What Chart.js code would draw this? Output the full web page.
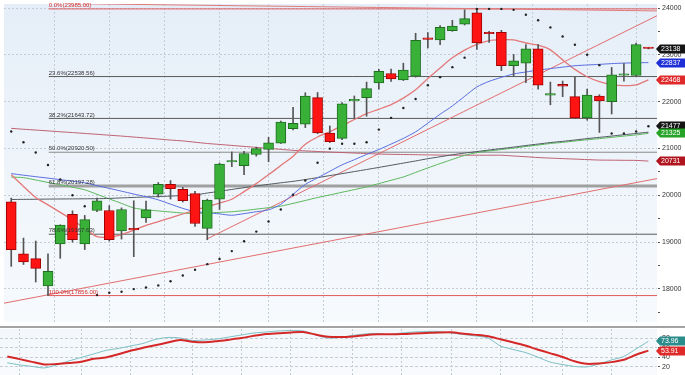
<!DOCTYPE html>
<html><head><meta charset="utf-8">
<script src="https://cdn.jsdelivr.net/npm/chart.js@4.4.0/dist/chart.umd.min.js"></script>
<style>
html,body{margin:0;padding:0;background:#fff;overflow:hidden;}
#wrap{position:relative;width:685px;height:375px;overflow:hidden;}
#c1{position:absolute;left:0;top:0;}
#sep{position:absolute;left:0;top:326px;width:685px;height:2px;background:#a3a3a3;}
#c2{position:absolute;left:0;top:328px;}
</style></head><body>
<div id="wrap"><canvas id="c1" width="685" height="326"></canvas><div id="sep"></div><canvas id="c2" width="685" height="48"></canvas></div>
<script>
// ---- data (weekly candles, index 0..52) ----
const weekIndex = [0,1,2,3,4,5,6,7,8,9,10,11,12,13,14,15,16,17,18,19,20,21,22,23,24,25,26,27,28,29,30,31,32,33,34,35,36,37,38,39,40,41,42,43,44,45,46,47,48,49,50,51,52];
const openP  = [19862,18751,18647,18063,18959,19591,18959,19675,19675,19237,19293,19516,20023,20232,20127,20038,19293,19919,20711,20634,20872,20982,21114,21426,21518,22088,21331,21218,22019,22088,22400,22603,22469,22546,23360,23324,23520,23658,23902,23474,23485,22770,22824,23130,22140,22373,22108,21656,22123,22004,22567,22561,23150];
const highP  = [19940,19085,19022,18751,19370,19668,19570,19940,19779,19731,19883,19877,20273,20315,20169,20086,19919,20690,20926,20941,21030,21239,21587,21879,22192,22198,21483,21983,22123,22421,22692,22699,22824,23464,23479,23631,23741,23965,23985,23506,23527,23012,23220,23220,22421,22442,22526,22269,22150,22734,22818,23256,23160];
const lowP   = [18480,18521,18146,17856,18653,18999,18840,19648,19022,19064,18688,19418,19960,19919,19856,19335,19049,19696,20613,20440,20836,20717,21107,21399,21447,21316,21128,21191,21643,21691,22269,22436,22453,22526,23151,23220,23506,23641,23116,23270,22665,22546,22407,22269,21935,22108,21639,21608,21343,21739,22442,22546,23130];
const closeP = [18840,18578,18438,18375,19362,19049,19481,19883,19049,19696,19262,19689,20232,20142,19883,19397,19898,20669,20726,20893,20997,21122,21566,21539,22123,21331,21149,21956,22031,22282,22651,22490,22678,23312,23333,23589,23616,23777,23256,23454,22770,22874,23130,22352,22150,22332,21656,22144,22019,22574,22588,23220,23138];

const maPink = [20440,20190,19954,19794,19635,19472,19293,19114,19105,19160,19253,19356,19437,19518,19600,19681,19758,19835,19915,20079,20250,20440,20636,20836,21091,21247,21358,21489,21620,21748,21839,21937,22077,22254,22498,22724,22939,23105,23228,23308,23328,23324,23256,23210,23110,22895,22692,22534,22430,22365,22344,22359,22468];
const maBlue = [20463,20430,20398,20367,20334,20302,20267,20206,20148,20088,20027,19969,19902,19810,19720,19650,19629,19602,19573,19608,19648,19689,19808,20023,20233,20373,20513,20651,20761,20874,20978,21095,21216,21356,21543,21733,21910,22115,22317,22436,22521,22594,22636,22676,22709,22740,22770,22786,22799,22815,22826,22832,22837];
const maGreen = [20390,20377,20327,20275,20225,20173,20117,20021,19923,19827,19729,19691,19666,19643,19620,19610,19623,19635,19648,19673,19704,19735,19769,19827,19889,19952,20008,20065,20121,20179,20250,20321,20392,20488,20586,20678,20767,20853,20913,20947,20978,21009,21043,21074,21107,21132,21160,21187,21212,21239,21266,21291,21325];
const maGray = [19910,19913,19915,19919,19921,19923,19925,19927,19933,19944,19954,19965,19973,19983,19994,20008,20048,20085,20125,20163,20200,20234,20267,20298,20336,20378,20421,20463,20507,20551,20596,20642,20688,20734,20782,20824,20866,20903,20934,20968,20999,21030,21064,21095,21128,21153,21182,21212,21239,21266,21295,21322,21349];
const maLong = [21431,21412,21395,21377,21358,21341,21322,21304,21285,21266,21245,21224,21203,21181,21162,21135,21107,21087,21066,21045,21024,21003,20982,20961,20949,20936,20924,20914,20903,20893,20882,20876,20872,20868,20863,20861,20857,20857,20857,20857,20857,20840,20824,20807,20795,20784,20774,20763,20753,20751,20748,20746,20731];
const sarDots = [21364,21135,20914,20649,20336,20002,19766,17869,17917,17937,17994,18027,18073,18163,18286,18407,18528,18640,18807,19016,19224,19439,19696,20013,20315,20697,20997,21101,21101,21135,21404,21656,21865,22060,22352,22526,22740,22943,23985,23985,23985,23965,23860,23741,23589,23395,23220,23005,22782,21322,21322,21364,21477];

const stochK = [28.2,23.6,20.4,17.2,23.6,32.1,39.5,46.9,54.4,58.6,63.9,69.2,77.7,82.0,80.9,75.6,76.6,78.8,83.0,87.3,91.5,93.6,95.8,96.8,95.8,87.3,80.9,82.0,86.2,89.4,90.4,88.3,91.5,93.6,94.7,94.7,91.5,88.3,85.1,80.9,63.9,56.5,50.1,40.6,29.9,24.6,20.4,19.3,25.7,34.2,41.6,57.5,73.96];
const stochD = [41.4,35.9,30.1,24.6,25.5,27.8,30.1,36.5,39.5,46.3,53.9,59.9,65.4,71.1,76.6,73.0,71.8,74.1,77.3,80.7,85.4,89.2,90.9,92.8,93.6,88.3,83.7,82.8,83.9,86.8,88.7,88.7,89.2,90.4,91.5,92.6,93.0,90.0,87.5,84.5,78.1,71.8,65.0,56.5,48.6,40.8,31.4,25.9,26.8,29.5,34.4,45.2,53.91];

const fibNames  = ['0.0%','23.6%','38.2%','50.0%','61.8%','78.6%','100.0%'];
const fibLevels = [23985.00,22538.56,21643.72,20920.50,20197.28,19167.63,17856.00];
const trendRise = [[-0.59,17693],[52.7,20357]];
const trendSteep = [[15.95,19064],[52.7,23839]];
const trendTop = [[-0.59,24115],[52.7,23942]];
const monthStarts = [1,6,10,15,19,23,28,32,36,40,45,49];
const priceTicks = [17500,18000,18500,19000,19500,20000,20500,21000,21500,22000,22500,23000,23500,24000];
const oscTicks = [20,40,60,80];
const priceTags = [
  {v:23138,t:'23138',c:'#151515'},{v:22837,t:'22837',c:'#1f2fd8'},{v:22468,t:'22468',c:'#e02a2a'},
  {v:21477,t:'21477',c:'#151515'},{v:21325,t:'21325',c:'#27a327'},{v:20731,t:'20731',c:'#b0141e'}];
const oscTags = [{v:73.96,t:'73.96',c:'#2b8c8c'},{v:53.91,t:'53.91',c:'#e02a2a'}];

// ---- helpers ----
const FONT = 'Liberation Sans, Arial, sans-serif';
const X_MIN = -0.59, X_MAX = 52.7;
const GREEN = '#39b139', GREEN_B = '#1f6f1f', RED = '#ff1414', RED_B = '#a00000';
const GRID = '#c4ccd5';
const up = weekIndex.map(i => closeP[i] >= openP[i]);
const pts = arr => arr.map((v,i)=>({x:weekIndex[i], y:v}));
const seg = arr => arr.map(p=>({x:p[0], y:p[1]}));

function xAxis(){
  return {type:'linear', min:X_MIN, max:X_MAX, offset:false,
    afterBuildTicks: s => { s.ticks = monthStarts.map(v=>({value:v})); },
    afterFit: s => { s.height = 0; s.paddingLeft = 0; s.paddingRight = 0; },
    ticks:{display:false}, border:{display:true, color:'rgba(0,0,0,0)', dash:[2,2]},
    grid:{color:GRID, drawTicks:false, lineWidth:1, borderDash:[2,2]}};
}
function tagPlugin(tags){
  return {id:'tags'+tags.length, afterDraw(chart){
    const ctx = chart.ctx, ys = chart.scales.y;
    ctx.save();
    ctx.font = '7px ' + FONT; ctx.textBaseline = 'middle'; ctx.textAlign = 'left';
    tags.forEach(tg => {
      const y = Math.round(ys.getPixelForValue(tg.v));
      ctx.fillStyle = tg.c;
      ctx.beginPath();
      ctx.moveTo(656, y); ctx.lineTo(660, y-4.5); ctx.lineTo(685, y-4.5);
      ctx.lineTo(685, y+4.5); ctx.lineTo(660, y+4.5); ctx.closePath(); ctx.fill();
      ctx.fillStyle = '#fff'; ctx.fillText(tg.t, 661, y+0.5);
    });
    ctx.restore();
  }};
}
function bgPlugin(top, bottom){
  return {id:'bg', beforeDraw(chart){
    const {ctx, chartArea:a} = chart;
    ctx.save();
    ctx.fillStyle = '#fff'; ctx.fillRect(0,0,chart.width,chart.height);
    const g = ctx.createLinearGradient(0,a.top,0,a.bottom);
    g.addColorStop(0, top); g.addColorStop(1, bottom);
    ctx.fillStyle = g; ctx.fillRect(a.left,a.top,a.right-a.left,a.bottom-a.top);
    ctx.restore();
  }};
}
const fibPlugin = {id:'fib', afterDatasetsDraw(chart){
  const ctx = chart.ctx, xs = chart.scales.x, ys = chart.scales.y;
  ctx.save();
  ctx.font = '6px ' + FONT; ctx.textBaseline = 'bottom'; ctx.textAlign = 'left';
  fibLevels.forEach((lv,k) => {
    const red = (k===0 || k===fibLevels.length-1);
    ctx.fillStyle = red ? '#d42a2a' : '#333';
    ctx.fillText(fibNames[k] + '(' + lv.toFixed(2) + ')', xs.getPixelForValue(3.06), ys.getPixelForValue(lv) - 0.5);
  });
  ctx.restore();
}};

const lineDs = (data, color, width, order) => ({type:'line', data, borderColor:color, borderWidth:width,
  pointRadius:0, fill:false, tension:0.25, order});

const fibDatasets = fibLevels.map((lv,k) => {
  const red = (k===0 || k===fibLevels.length-1);
  const color = red ? '#e05a5a' : (k===4 ? '#a0a0a0' : (k===3 ? '#8a8a8a' : '#5a5a5a'));
  return {type:'line', data:[{x:3.06,y:lv},{x:X_MAX,y:lv}], borderColor:color,
    borderWidth: k===4 ? 3 : 1, pointRadius:0, tension:0, order:9};
});

function yAxis(min, max, tickList, dash){
  return {type:'linear', position:'right', min, max,
    afterBuildTicks: s => { s.ticks = tickList.map(v=>({value:v})); },
    afterFit: s => { s.width = 28; s.paddingTop = 0; s.paddingBottom = 0; },
    ticks:{padding:2, color:'#333', font:{size:7, family:FONT}, autoSkip:false,
      callback: v => (v % 1000 === 0 || v < 100 ? String(v) : '')},
    border:{display:true, color:'rgba(0,0,0,0)', dash},
    grid:{color: c => (c.tick && (c.tick.value % 1000 === 0 || c.tick.value < 100) ? GRID : 'rgba(0,0,0,0)'),
      borderDash:dash, tickColor:'#555', tickLength:3, tickBorderDash:[]}};
}

new Chart(document.getElementById('c1'), {
  type:'line',
  data:{datasets:[
    ...fibDatasets,
    lineDs(seg(trendRise), '#e36d6d', 1, 8),
    lineDs(seg(trendSteep), '#e36d6d', 1, 8),
    lineDs(seg(trendTop), '#e07a7a', 1, 8),
    lineDs(pts(maLong), '#c06070', 1, 7),
    lineDs(pts(maGray), '#505a60', 1, 6),
    lineDs(pts(maGreen), '#5cb85c', 1, 6),
    lineDs(pts(maBlue), '#5a6ee0', 1, 5),
    lineDs(pts(maPink), '#e47878', 1.3, 5),
    {type:'bar', data: weekIndex.map(i=>({x:i, y:[lowP[i], highP[i]]})), grouped:false,
      barThickness:1, backgroundColor:'#555', borderWidth:0, order:2},
    {type:'bar', data: weekIndex.map(i=>({x:i, y:[openP[i], closeP[i]]})), grouped:false,
      barThickness:10, minBarLength:1.5, backgroundColor: up.map(u=>u?GREEN:RED),
      borderColor: up.map(u=>u?GREEN_B:RED_B), borderWidth:1, borderSkipped:false, order:1},
    {type:'line', data: pts(sarDots), showLine:false, pointRadius:1.2, pointBackgroundColor:'#222',
      pointBorderWidth:0, order:0}
  ]},
  options:{
    responsive:false, animation:false, devicePixelRatio:1,
    layout:{padding:0},
    plugins:{legend:{display:false}, tooltip:{enabled:false}},
    scales:{ x: xAxis(), y: yAxis(17291, 24089.7, priceTicks, [2,2]) }
  },
  plugins:[bgPlugin('#e5eef8','#f7fafd'), fibPlugin, tagPlugin(priceTags)]
});

new Chart(document.getElementById('c2'), {
  type:'line',
  data:{datasets:[
    lineDs(pts(stochK), '#7cc0c4', 1, 2),
    lineDs(pts(stochD), '#d42828', 2, 1)
  ]},
  options:{
    responsive:false, animation:false, devicePixelRatio:1,
    layout:{padding:{top:1}},
    plugins:{legend:{display:false}, tooltip:{enabled:false}},
    scales:{ x: xAxis(), y: yAxis(0, 100, oscTicks, [3,2]) }
  },
  plugins:[bgPlugin('#f3f7fb','#f8fafc'), tagPlugin(oscTags)]
});
</script>
</body></html>
